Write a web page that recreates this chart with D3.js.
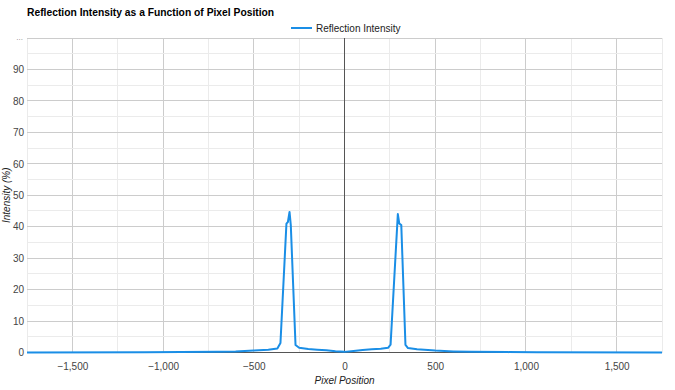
<!DOCTYPE html>
<html><head><meta charset="utf-8">
<script src="https://cdn.jsdelivr.net/npm/d3@7"></script>
<style>body{margin:0;background:#fff;font-family:Arial,"Liberation Sans",sans-serif;}</style>
</head><body><svg id="c" width="675" height="390"></svg>
<script>
const seriesName = "Reflection Intensity";
const pixelPositions = [-1750,-1100,-900,-700,-600,-500,-420,-370,-353,-320,-312,-303,-296,-270,-250,-200,-150,-100,-50,0,50,100,150,200,240,254,294,302,313,336,350,400,500,600,700,900,1060,1750];
const intensity =      [0,0.1,0.15,0.25,0.35,0.6,0.9,1.3,3,41,41.5,44.7,40.5,2.4,1.5,1.1,0.9,0.7,0.4,0.2,0.5,0.8,1.0,1.2,1.5,2.5,44,41,40.5,2.4,1.4,1.0,0.6,0.35,0.2,0.12,0.05,0];
const xTicks = [-1500,-1000,-500,0,500,1000,1500];
const yTicks = [0,10,20,30,40,50,60,70,80,90];

const svg = d3.select("#c");
const L=27,R=662,T=38,B=352.5;
const x = d3.scaleLinear().domain([-1750,1750]).range([L,R]);
const y = d3.scaleLinear().domain([0,100]).range([B,T]);
const fmt = d3.format(",");
const FF = "Arial, 'Liberation Sans', sans-serif";

const g = svg.append("g");
d3.range(-1750,1751,250).forEach(v=>{
  const major = v%500===0;
  g.append("line").attr("x1",x(v)).attr("x2",x(v)).attr("y1",T).attr("y2",B)
   .attr("stroke",major?"#cccccc":"#ebebeb").attr("stroke-width",1).attr("shape-rendering","crispEdges");
});
d3.range(0,101,5).forEach(v=>{
  const major = v%10===0;
  g.append("line").attr("x1",L).attr("x2",R).attr("y1",y(v)).attr("y2",y(v))
   .attr("stroke",major?"#cccccc":"#ebebeb").attr("stroke-width",1).attr("shape-rendering","crispEdges");
});
g.append("line").attr("x1",x(0)).attr("x2",x(0)).attr("y1",T).attr("y2",B).attr("stroke","#555").attr("shape-rendering","crispEdges");
g.append("line").attr("x1",L).attr("x2",R).attr("y1",y(0)).attr("y2",y(0)).attr("stroke","#555").attr("shape-rendering","crispEdges");

const xa = d3.axisBottom(x).tickValues(xTicks).tickFormat(fmt).tickSize(0).tickPadding(10);
const xg = svg.append("g").attr("transform",`translate(0,${B})`).call(xa);
const ya = d3.axisLeft(y).tickValues(yTicks).tickSize(0).tickPadding(3);
const yg = svg.append("g").attr("transform",`translate(${L},0)`).call(ya);
[xg,yg].forEach(a=>{a.select(".domain").remove();a.selectAll("text").attr("fill","#444").style("font-size","10px").style("font-family",FF);});
svg.append("text").attr("x",L-4).attr("y",y(100)+2).attr("text-anchor","end").attr("fill","#888").style("font-size","8px").style("font-family",FF).text("...");

const data = pixelPositions.map((p,i)=>({p,v:intensity[i]}));
svg.append("path").datum(data).attr("fill","none").attr("stroke","#1a8ee6").attr("stroke-width",2)
  .attr("stroke-linejoin","round")
  .attr("d",d3.line().x(d=>x(d.p)).y(d=>y(d.v)));

svg.append("text").attr("x",27).attr("y",16).attr("font-weight","bold").attr("fill","#000").style("font-size","10.3px").style("font-family",FF).text("Reflection Intensity as a Function of Pixel Position");
svg.append("line").attr("x1",291).attr("x2",312).attr("y1",28).attr("y2",28).attr("stroke","#1a8ee6").attr("stroke-width",2);
svg.append("text").attr("x",316).attr("y",31.5).attr("fill","#222").style("font-size","10px").style("font-family",FF).text(seriesName);
svg.append("text").attr("x",x(0)).attr("y",384).attr("text-anchor","middle").attr("font-style","italic").attr("fill","#222").style("font-size","10px").style("font-family",FF).text("Pixel Position");
svg.append("text").attr("transform",`translate(10,${(T+B)/2}) rotate(-90)`).attr("text-anchor","middle").attr("font-style","italic").attr("fill","#222").style("font-size","10px").style("font-family",FF).text("Intensity (%)");
</script></body></html>
